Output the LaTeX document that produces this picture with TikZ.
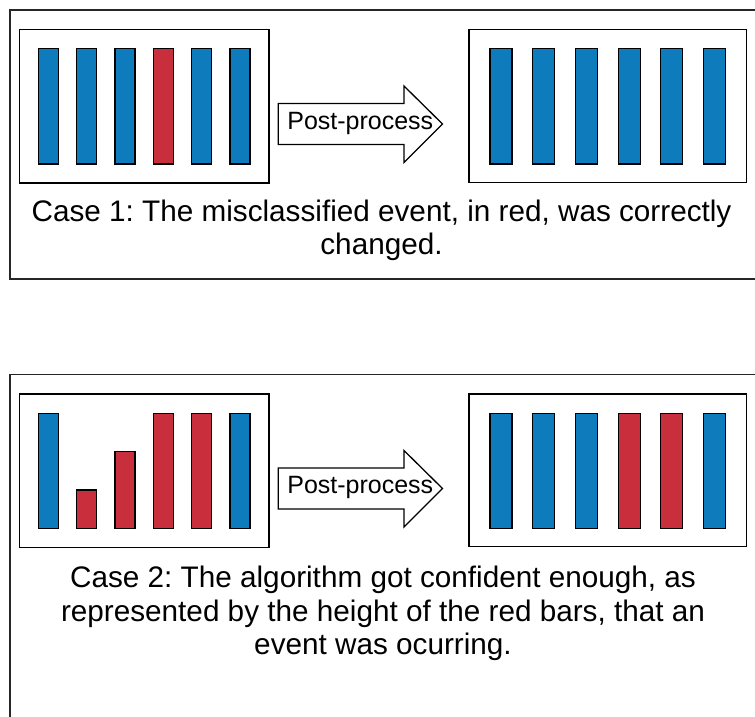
\documentclass[tikz,border=0pt]{standalone}
\usepackage{fontspec}
\setmainfont{Liberation Sans}
\frenchspacing
\definecolor{barblue}{RGB}{14,123,188}
\definecolor{barred}{RGB}{201,46,60}
\tikzset{
  frame/.style={draw=black!85, line width=1.5pt},
  panel/.style={draw=black, line width=1.5pt},
  bar/.style={draw=black, line width=1.2pt},
  bluebar/.style={bar, fill=barblue},
  redbar/.style={bar, fill=barred},
  blockarrow/.style={draw=black, line width=1.3pt, fill=white, line join=miter},
  arrowtext/.style={font=\fontsize{25}{29}\selectfont, inner sep=0pt, anchor=base},
  caption/.style={font=\fontsize{29.7}{33.5}\selectfont, align=center, inner sep=0pt, anchor=north}
}
\begin{document}
\begin{tikzpicture}[x=1pt,y=-1pt]
\useasboundingbox (0,0) rectangle (755,716);
\clip (0,0) rectangle (755,716);
% ---------- Case 1 ----------
\draw[frame] (10,10) rectangle (760,279);
\draw[panel] (19.5,29.5) rectangle (269,183);
\draw[panel] (469,29.5) rectangle (746.7,182.7);
\foreach \i/\c in {0/bluebar,1/bluebar,2/bluebar,3/redbar,4/bluebar,5/bluebar}{
  \draw[\c] ({38.3+38.33*\i},48.3) rectangle ++(20,115.7);
}
\foreach \i in {0,...,5}{
  \draw[bluebar] ({490+42.7*\i},48.3) rectangle ++(22,115.7);
}
\draw[blockarrow] (278.3,103.5) -- (404,103.5) -- (404,86) -- (442.5,124) -- (404,162.5) -- (404,144.5) -- (278.3,144.5) -- cycle;
\node[arrowtext] (pp1) at (360.3,129) {Post-process};
\node[caption] (cap1) at (381.5,199.5) {Case 1: The misclassified event, in red, was correctly\\changed.};
% ---------- Case 2 ----------
\draw[frame] (10,374.7) rectangle (760,730);
\draw[panel] (19.5,394) rectangle (269,547.3);
\draw[panel] (469,394) rectangle (746.7,546.7);
\foreach \i/\c/\t in {0/bluebar/413.3,1/redbar/490,2/redbar/451.7,3/redbar/413.3,4/redbar/413.3,5/bluebar/413.3}{
  \draw[\c] ({38.3+38.33*\i},\t) rectangle ({58.3+38.33*\i},528.3);
}
\foreach \i/\c in {0/bluebar,1/bluebar,2/bluebar,3/redbar,4/redbar,5/bluebar}{
  \draw[\c] ({490+42.7*\i},413.3) rectangle ++(22,115);
}
\draw[blockarrow] (278.3,468) -- (404,468) -- (404,450.5) -- (442.5,488.5) -- (404,527) -- (404,509) -- (278.3,509) -- cycle;
\node[arrowtext] (pp2) at (360.3,493.5) {Post-process};
\node[caption] (cap2) at (383,566) {Case 2: The algorithm got confident enough, as\\represented by the height of the red bars, that an\\event was ocurring.};
\end{tikzpicture}
\end{document}
